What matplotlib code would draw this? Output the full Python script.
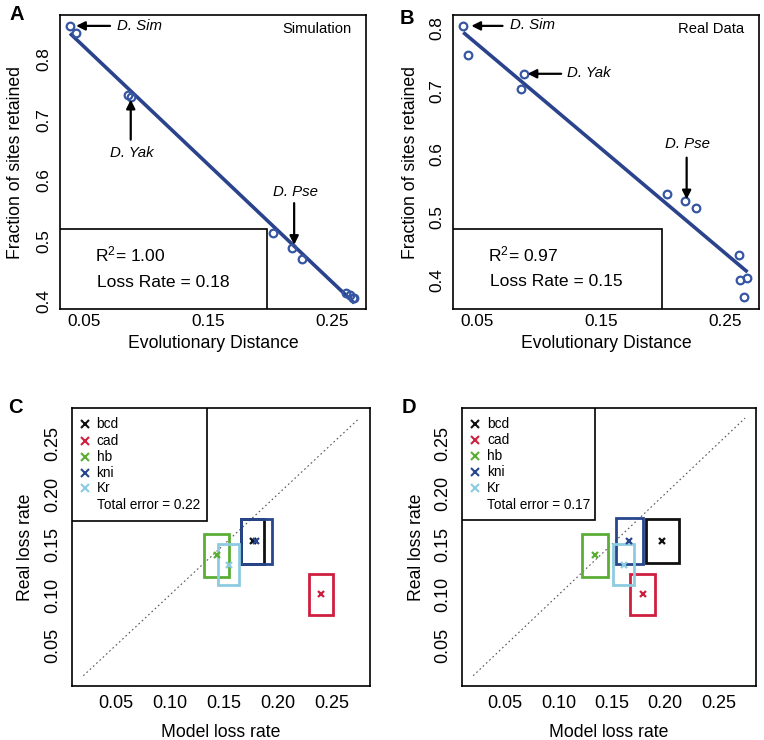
import numpy as np
import matplotlib
matplotlib.use("Agg")
import matplotlib.pyplot as plt
from matplotlib.patches import Rectangle

plt.rcParams['font.family'] = ['Liberation Sans', 'DejaVu Sans']
plt.rcParams['mathtext.fontset'] = 'custom'
plt.rcParams['mathtext.rm'] = 'Liberation Sans'
plt.rcParams['mathtext.it'] = 'Liberation Sans:italic'

# ---------------- data ----------------
# Panel A (Simulation)
sim_dist = [0.0384, 0.0433, 0.0850, 0.0874, 0.2026, 0.2174, 0.2260, 0.2610, 0.2640, 0.2667, 0.2678]
sim_frac = [0.855, 0.843, 0.741, 0.738, 0.512, 0.488, 0.470, 0.413, 0.4105, 0.406, 0.405]
sim_r2 = "1.00"
sim_rate = "0.18"

# Panel B (Real data)
real_dist = [0.0386, 0.0427, 0.0873, 0.0851, 0.2027, 0.2176, 0.2265, 0.2608, 0.2616, 0.2680, 0.2654]
real_frac = [0.804, 0.758, 0.727, 0.703, 0.537, 0.525, 0.514, 0.4396, 0.399, 0.4026, 0.3728]
real_r2 = "0.97"
real_rate = "0.15"

dist_ticks = [0.05, 0.15, 0.25]
frac_ticks = [0.4, 0.5, 0.6, 0.7, 0.8]

# Panels C and D
genes = ['bcd', 'cad', 'hb', 'kni', 'Kr']
gene_colors = ['#111111', '#CE1F3E', '#5BAE35', '#27468C', '#8DCBE0']
real_loss = [0.1533, 0.1007, 0.1394, 0.1533, 0.1300]
real_err = [0.0222, 0.0203, 0.0213, 0.0225, 0.0205]

modelC_loss = [0.1766, 0.2396, 0.1435, 0.1802, 0.1543]
modelC_err = [0.0105, 0.0110, 0.0116, 0.0147, 0.0094]
errorC = "0.22"

modelD_loss = [0.1972, 0.1788, 0.1342, 0.1664, 0.1610]
modelD_err = [0.0155, 0.0115, 0.0122, 0.0125, 0.0102]
errorD = "0.17"

loss_ticks = [0.05, 0.10, 0.15, 0.20, 0.25]
loss_range = [0.02, 0.275]

# ---------------- figure ----------------
W, H = 764, 740
fig = plt.figure(figsize=(W / 100, H / 100), dpi=100)


def add_ax(l, r, t, b):
    return fig.add_axes([l / W, 1 - b / H, (r - l) / W, (b - t) / H])


axA = add_ax(60, 366, 15, 309)
axB = add_ax(453, 759, 15, 309)
axC = add_ax(72.3, 370, 408.3, 686)
axD = add_ax(462.3, 756, 407.7, 686)

LINE_COL = '#2A438C'
PT_COL = '#3656A3'


def style(ax, xt, yt, xfmt, yfmt, xpad, ypad, fs):
    for s in ax.spines.values():
        s.set_linewidth(1.2)
        s.set_color('black')
    ax.set_xticks(xt)
    ax.set_yticks(yt)
    ax.set_xticklabels([xfmt.format(v) for v in xt], fontsize=fs)
    ax.set_yticklabels([yfmt.format(v) for v in yt], fontsize=fs, rotation=90, va='center')
    ax.tick_params(axis='both', length=0)
    ax.tick_params(axis='x', pad=xpad)
    ax.tick_params(axis='y', pad=ypad)


def scatter_panel(ax, x, y, r2, rate, tag, ylim, ann):
    x = np.asarray(x)
    y = np.asarray(y)
    ax.set_xlim(0.0303, 0.2773)
    ax.set_ylim(*ylim)
    ax.plot(x, y, 'o', mfc='none', mec=PT_COL, mew=1.6, ms=5.5, zorder=3)
    k, b = np.polyfit(x, y, 1)
    xs = np.array([x.min(), x.max()])
    ax.plot(xs, k * xs + b, color=LINE_COL, lw=2.6, zorder=2, solid_capstyle='butt')
    style(ax, dist_ticks, frac_ticks, '{:.2f}', '{:.1f}', 3.5, 6.5, 12.4)
    ax.text(0.2655, ann['tag_y'], tag, ha='right', va='center', fontsize=10.6)
    # legend box
    ax.add_patch(Rectangle((0, 0), ann['box_w'], ann['box_h'], transform=ax.transAxes,
                           fill=True, facecolor='white', edgecolor='black', lw=1.2, zorder=4))
    ax.text(0.0586, ann['r2_y'], r'R$^{2}$= ' + r2, ha='left', va='center', fontsize=12.6, zorder=5)
    ax.text(0.0600, ann['lr_y'], 'Loss Rate = ' + rate, ha='left', va='center', fontsize=12.6, zorder=5)
    aprops = dict(arrowstyle='-|>', color='black', lw=1.6, mutation_scale=13, shrinkA=0, shrinkB=0)
    for (txt, xy, xytext, tpos, ha) in ann['arrows']:
        ax.annotate('', xy=xy, xytext=xytext, arrowprops=aprops, zorder=6)
        ax.text(tpos[0], tpos[1], txt, ha=ha, va='center', fontsize=10.8, style='italic')
    ax.text(0.5, -0.116, 'Evolutionary Distance', transform=ax.transAxes, ha='center', va='center', fontsize=12.7)
    ax.text(ann['ylab_x'], 0.5, 'Fraction of sites retained', transform=ax.transAxes, ha='center',
            va='center', rotation=90, fontsize=12.7)


yA = (0.387, 0.873)
scatter_panel(axA, sim_dist, sim_frac, sim_r2, sim_rate, 'Simulation', yA, dict(
    tag_y=0.8496, r2_y=0.4766, lr_y=0.431, ylab_x=-0.145,
    box_w=(800 - 180) / (1097 - 180), box_h=(0.5196 - yA[0]) / (yA[1] - yA[0]),
    arrows=[
        ('D. Sim', (0.0433, 0.855), (0.0707, 0.855), (0.0767, 0.855), 'left'),
        ('D. Yak', (0.0874, 0.733), (0.0874, 0.667), (0.0882, 0.645), 'center'),
        ('D. Pse', (0.2193, 0.493), (0.2193, 0.562), (0.2201, 0.581), 'center'),
    ]))

yB = (0.3534, 0.821)
scatter_panel(axB, real_dist, real_frac, real_r2, real_rate, 'Real Data', yB, dict(
    tag_y=0.7989, r2_y=0.4396, lr_y=0.3972, ylab_x=-0.139,
    box_w=(838 - 213) / (1130 - 213), box_h=(0.481 - yB[0]) / (yB[1] - yB[0]),
    arrows=[
        ('D. Sim', (0.0451, 0.8037), (0.0703, 0.8037), (0.0765, 0.8055), 'left'),
        ('D. Yak', (0.0905, 0.7275), (0.1176, 0.7275), (0.1222, 0.7286), 'left'),
        ('D. Pse', (0.2189, 0.5278), (0.2189, 0.5941), (0.2197, 0.616), 'center'),
    ]))


def loss_panel(ax, model, merr, err_txt, leg):
    lo, hi = loss_range
    pad = (hi - lo) * 0.04
    ax.set_xlim(lo - pad, hi + pad)
    ax.set_ylim(lo - pad, hi + pad)
    ax.plot(loss_range, loss_range, ls=(0, (1.5, 2.5)), color='#555555', lw=0.8, zorder=1)
    for g, c, mx, ex, ry, ey in zip(genes, gene_colors, model, merr, real_loss, real_err):
        ax.add_patch(Rectangle((mx - ex, ry - ey), 2 * ex, 2 * ey, fill=False, edgecolor=c, lw=2.0, zorder=2))
        ax.plot([mx], [ry], 'x', color=c, ms=4, mew=1.6, zorder=3)
    style(ax, loss_ticks, loss_ticks, '{:.2f}', '{:.2f}', 6.5, 8, 13)
    # legend
    ax.add_patch(Rectangle((0, leg['bottom']), leg['right'], 1 - leg['bottom'], transform=ax.transAxes,
                           fill=True, facecolor='white', edgecolor='black', lw=1.2, zorder=4))
    for i, (g, c) in enumerate(zip(genes, gene_colors)):
        yy = leg['rows'][i]
        ax.plot([leg['mx']], [yy], 'x', color=c, ms=5.5, mew=1.5, transform=ax.transAxes, zorder=5, clip_on=False)
        ax.text(leg['tx'], yy, g, transform=ax.transAxes, ha='left', va='center', fontsize=9.8, zorder=5)
    ax.text(leg['tx'], leg['rows'][5], 'Total error = ' + err_txt, transform=ax.transAxes,
            ha='left', va='center', fontsize=9.8, zorder=5)
    ax.text(0.5, -0.168, 'Model loss rate', transform=ax.transAxes, ha='center', va='center', fontsize=12.7)
    ax.text(leg['ylab_x'], 0.5, 'Real loss rate', transform=ax.transAxes, ha='center', va='center',
            rotation=90, fontsize=12.7)


loss_panel(axC, modelC_loss, modelC_err, errorC, dict(
    bottom=0.5954, right=0.4513, mx=0.0426, tx=0.0817, ylab_x=-0.158,
    rows=[0.9436, 0.8836, 0.8259, 0.7683, 0.7119, 0.6519]))
loss_panel(axD, modelD_loss, modelD_err, errorD, dict(
    bottom=0.5964, right=0.4506, mx=0.042, tx=0.084, ylab_x=-0.157,
    rows=[0.9413, 0.8838, 0.8263, 0.7689, 0.7114, 0.6515]))

# panel letters
for lab, (px, py) in zip('ABCD', [(17, 15), (407, 18), (15, 407), (409, 407)]):
    fig.text(px / W, 1 - py / H, lab, ha='center', va='center', fontsize=14.5, fontweight='bold')

fig.savefig('out.png', dpi=100, facecolor='white')
